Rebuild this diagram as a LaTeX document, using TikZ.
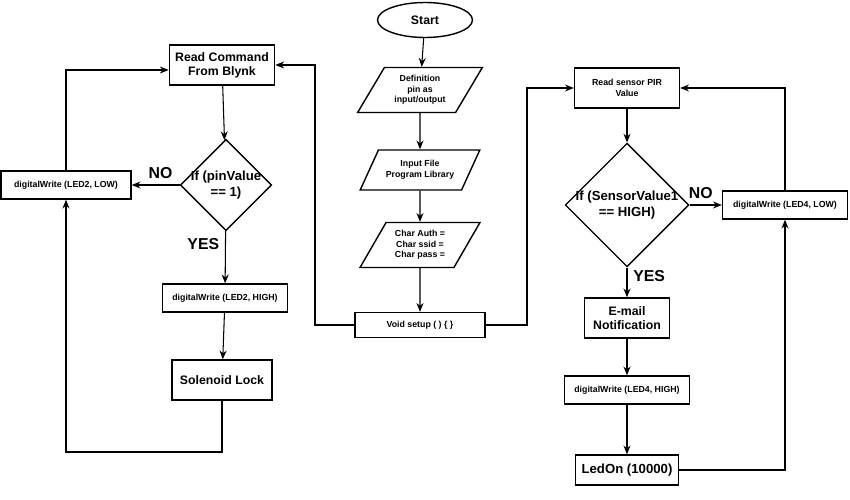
\documentclass[tikz,border=0pt]{standalone}
\usepackage{fontspec}
\setmainfont{Liberation Sans}
\usetikzlibrary{shapes.geometric,arrows.meta}

\tikzset{
  box/.style={draw, thick, fill=white, align=center, font=\bfseries\scriptsize},
  io/.style={box, trapezium, trapezium left angle=60, trapezium right angle=120, trapezium stretches=true, font=\bfseries\tiny},
  cond/.style={box, diamond, aspect=1, inner sep=-1pt, font=\bfseries\fontsize{7.5}{9}\selectfont},
  flow/.style={-{Stealth[length=5pt,width=4pt]}, semithick},
  lbl/.style={font=\bfseries\small}
}

\begin{document}
\begin{tikzpicture}[x=0.02cm, y=-0.02cm]
\useasboundingbox (0,0) rectangle (850,500);

\node[box, ellipse, minimum width=1.9cm, minimum height=0.7cm] (start) at (425,20) {Start};
\node[io, minimum width=2.5cm, minimum height=0.9cm] (def) at (420,90) {Definition\\pin as\\input/output};
\node[io, minimum width=2.4cm, minimum height=0.8cm] (lib) at (420,170) {Input File\\Program Library};
\node[io, minimum width=2.4cm, minimum height=0.9cm] (chr) at (420,245) {Char Auth =\\Char ssid =\\Char pass =};
\node[box, font=\bfseries\tiny, minimum width=2.6cm, minimum height=0.5cm] (setup) at (420,325) {Void setup ( ) \{ \}};

\node[box, minimum width=2cm, minimum height=0.8cm] (blynk) at (222,65) {Read Command\\From Blynk};
\node[cond] (pin) at (226,185) {If (pinValue\\== 1)};
\node[box, font=\bfseries\tiny, minimum width=2.6cm, minimum height=0.56cm] (low2) at (66,185) {digitalWrite (LED2, LOW)};
\node[box, font=\bfseries\tiny, minimum width=2.5cm, minimum height=0.56cm] (high2) at (225,298) {digitalWrite (LED2, HIGH)};
\node[box, minimum width=2cm, minimum height=0.8cm] (lock) at (222,380) {Solenoid Lock};

\node[box, font=\bfseries\tiny, minimum width=2.1cm, minimum height=0.8cm] (pir) at (627,88) {Read sensor PIR\\Value};
\node[cond] (sens) at (627,205) {If (SensorValue1\\== HIGH)};
\node[box, font=\bfseries\tiny, minimum width=2.5cm, minimum height=0.56cm] (low4) at (785,205) {digitalWrite (LED4, LOW)};
\node[box, minimum width=1.7cm, minimum height=0.8cm] (mail) at (627,318) {E-mail\\Notification};
\node[box, font=\bfseries\tiny, minimum width=2.5cm, minimum height=0.56cm] (high4) at (627,390) {digitalWrite (LED4, HIGH)};
\node[box, font=\bfseries\fontsize{7.5}{9}\selectfont, minimum width=1.8cm, minimum height=0.6cm] (ledon) at (627,470) {LedOn (10000)};

% centre column
\draw[flow] (start) -- (def);
\draw[flow] (def) -- (lib);
\draw[flow] (lib) -- (chr);
\draw[flow] (chr) -- (setup);
\draw[flow] (setup.west) -| (315,65) -- (blynk.east);
\draw[flow] (setup.east) -| (527,88) -- (pir.west);

% left column
\draw[flow] (blynk) -- (pin);
\draw[flow] (pin) -- node[lbl, pos=0.4, above] {NO} (low2);
\draw[flow] (pin) -- node[lbl, pos=0.25, left] {YES} (high2);
\draw[flow] (high2) -- (lock);
\draw[flow] (lock.south) |- (66,452) -- (low2.south);
\draw[flow] (low2.north) |- (blynk.west |- 0,70);

% right column
\draw[flow] (pir) -- (sens);
\draw[flow] (sens) -- node[lbl, pos=0.35, above] {NO} (low4);
\draw[flow] (sens) -- node[lbl, pos=0.3, right] {YES} (mail);
\draw[flow] (mail) -- (high4);
\draw[flow] (high4) -- (ledon);
\draw[flow] (ledon.east) -| (low4.south);
\draw[flow] (low4.north) |- (pir.east);
\end{tikzpicture}
\end{document}
